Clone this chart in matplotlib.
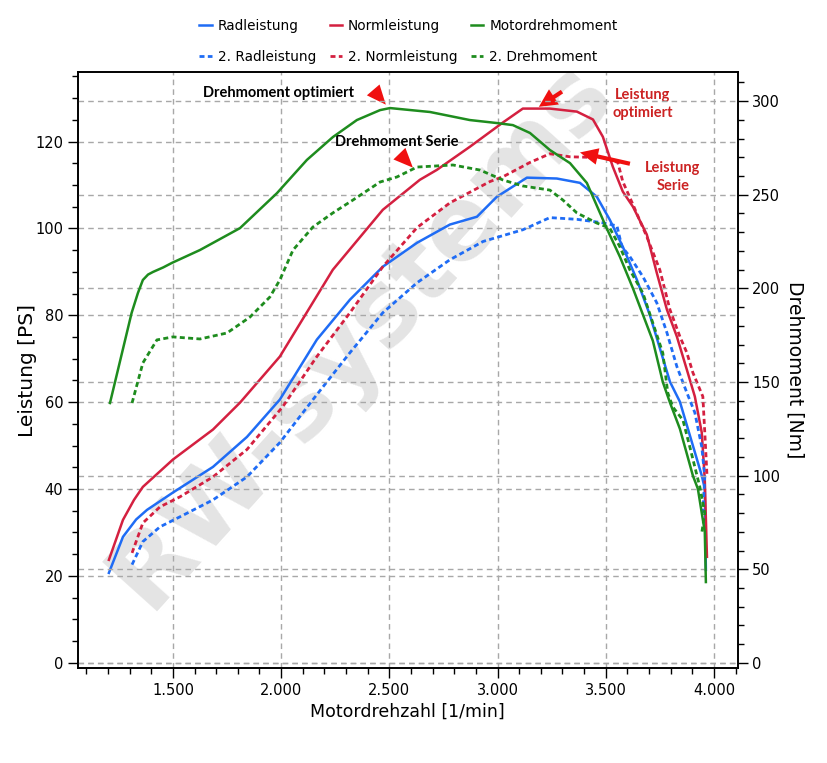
import matplotlib
matplotlib.use('Agg')
import matplotlib.pyplot as plt
from matplotlib.ticker import MultipleLocator, FuncFormatter

plt.rcParams['font.family'] = ['DejaVu Sans']
plt.rcParams['lines.solid_joinstyle'] = 'round'
plt.rcParams['lines.dash_joinstyle'] = 'round'

BLUE = '#1f6cf5'
RED = '#d42040'
GREEN = '#1e8c1e'
GRID = '#a8a8a8'

# Radleistung [PS]
rad_rpm = [1204, 1269, 1330, 1380, 1500, 1685, 1842, 1994, 2165, 2318, 2470, 2628, 2780, 2905,
           2997, 3136, 3274, 3381, 3459, 3519, 3579, 3644, 3704, 3797, 3843, 3944, 3958, 3963]
rad_ps = [20.7, 29.0, 33.0, 35.2, 39.2, 45.1, 52.0, 60.6, 74.4, 83.6, 91.2, 96.7, 100.9, 102.7,
          107.3, 111.7, 111.5, 110.5, 107.3, 102.0, 95.8, 88.2, 80.1, 64.7, 60.1, 43.1, 40.1, 21.4]

# Normleistung [PS]
norm_rpm = [1204, 1269, 1320, 1361, 1500, 1685, 1810, 1994, 2239, 2470, 2641, 2720, 2872, 3025,
            3117, 3242, 3367, 3441, 3487, 3533, 3579, 3626, 3690, 3736, 3783, 3829, 3875,
            3912, 3944, 3958, 3968]
norm_ps = [23.7, 32.9, 37.5, 40.5, 46.8, 53.7, 59.9, 70.5, 90.5, 104.3, 111.2, 113.5, 118.8, 124.4,
           127.6, 127.6, 126.9, 125.1, 121.1, 114.2, 108.5, 105.0, 98.6, 89.8, 81.3, 75.1, 67.5,
           61.3, 53.0, 42.1, 24.4]

# Motordrehmoment [Nm]
md_rpm = [1209, 1309, 1338, 1361, 1385, 1408, 1455, 1495, 1625, 1810, 1981, 2119, 2239, 2350,
          2457, 2503, 2688, 2872, 2997, 3071, 3150, 3242, 3335, 3413, 3505, 3566, 3626, 3672,
          3718, 3764, 3797, 3843, 3903, 3926, 3958, 3963]
md_nm = [138.8, 186.9, 197.5, 204.5, 207.4, 208.8, 211.2, 213.6, 220.5, 232.2, 250.9, 268.6,
         280.8, 289.9, 295.2, 296.3, 294.2, 289.9, 288.3, 287.2, 283.0, 273.9, 266.9, 256.3,
         232.0, 216.8, 200.0, 186.0, 172.0, 150.0, 139.0, 125.0, 100.0, 93.0, 70.0, 43.2]

# 2. Radleistung [PS]
rad2_rpm = [1311, 1361, 1440, 1532, 1685, 1842, 1994, 2147, 2318, 2470, 2628, 2780, 2933,
            3117, 3242, 3367, 3487, 3552, 3575, 3612, 3672, 3736, 3783, 3829, 3875, 3912,
            3944, 3958, 3949]
rad2_ps = [22.6, 27.9, 31.3, 33.6, 37.5, 42.8, 50.7, 60.6, 71.4, 80.6, 87.5, 92.8, 97.0,
           99.7, 102.5, 102.1, 101.3, 100.6, 95.8, 93.5, 88.9, 82.9, 76.0, 68.2, 62.2, 57.6,
           49.7, 42.8, 34.5]

# 2. Normleistung [PS]
norm2_rpm = [1311, 1361, 1440, 1532, 1685, 1842, 2008, 2165, 2318, 2470, 2628, 2780, 2965,
             3025, 3150, 3242, 3335, 3487, 3556, 3579, 3626, 3690, 3750, 3797, 3843, 3875,
             3903, 3949, 3958, 3968]
norm2_ps = [25.3, 32.2, 35.9, 38.2, 42.8, 49.1, 59.0, 70.5, 80.6, 91.2, 100.2, 105.9, 110.8,
            111.9, 115.2, 117.2, 116.5, 116.3, 115.2, 110.8, 105.5, 98.1, 90.5, 81.3, 75.1,
            71.4, 66.8, 61.3, 53.0, 43.3]

# 2. Drehmoment [Nm]
md2_rpm = [1311, 1361, 1426, 1500, 1625, 1750, 1856, 1948, 1994, 2055, 2147, 2239, 2332, 2457,
           2535, 2628, 2794, 2919, 3025, 3117, 3242, 3302, 3367, 3459, 3519, 3566, 3612, 3672,
           3718, 3764, 3787, 3810, 3857, 3889, 3935, 3958, 3944]
md2_nm = [138.8, 160.2, 172.5, 174.1, 173.0, 176.2, 184.7, 195.4, 204.5, 220.5, 232.8, 240.3,
          247.2, 256.8, 259.5, 264.8, 265.9, 263.2, 257.9, 254.7, 252.5, 247.2, 240.3, 234.9,
          232.2, 222.1, 209.8, 197.5, 181.5, 165.5, 144.2, 136.7, 129.7, 115.3, 94.0, 80.1, 69.4]

DASH = (0, (1.8, 1.2))

fig = plt.figure(figsize=(8.27, 7.63), dpi=100)
ax = fig.add_axes([0.094, 0.1245, 0.798, 0.781])
ax2 = ax.twinx()

# watermark
ax.text(0.43, 0.56, 'RW-systems', transform=ax.transAxes, rotation=48,
        fontsize=73, fontweight='bold', color='#e4e4e4', ha='center', va='center',
        zorder=0.3, clip_on=True)

l1, = ax.plot(rad_rpm, rad_ps, color=BLUE, lw=1.8, label='Radleistung')
l2, = ax.plot(norm_rpm, norm_ps, color=RED, lw=1.8, label='Normleistung')
l4, = ax.plot(rad2_rpm, rad2_ps, color=BLUE, lw=2, ls=DASH, label='2. Radleistung')
l5, = ax.plot(norm2_rpm, norm2_ps, color=RED, lw=2, ls=DASH, label='2. Normleistung')
l3, = ax2.plot(md_rpm, md_nm, color=GREEN, lw=1.8, label='Motordrehmoment')
l6, = ax2.plot(md2_rpm, md2_nm, color=GREEN, lw=2, ls=DASH, label='2. Drehmoment')

ax.set_xlim(1060, 4110)
ax.set_ylim(-1.2, 136)
ax2.set_ylim(-2.7, 315.5)

ax.xaxis.set_major_locator(MultipleLocator(500))
ax.xaxis.set_minor_locator(MultipleLocator(100))
ax.yaxis.set_major_locator(MultipleLocator(20))
ax.yaxis.set_minor_locator(MultipleLocator(5))
ax2.yaxis.set_major_locator(MultipleLocator(50))
ax2.yaxis.set_minor_locator(MultipleLocator(10))
ax.xaxis.set_major_formatter(FuncFormatter(lambda v, p: f'{int(v):,}'.replace(',', '.')))

for a in (ax, ax2):
    a.tick_params(which='major', direction='out', length=7, width=1, labelsize=10.5)
    a.tick_params(which='minor', direction='out', length=4, width=1)
    for s in a.spines.values():
        s.set_linewidth(1.2)
    a.grid(True, which='major', axis='y', color=GRID, ls=(0, (4, 3)), lw=1)
ax.grid(True, which='major', axis='x', color=GRID, ls=(0, (4, 3)), lw=1)

ax.set_xlabel('Motordrehzahl [1/min]', fontsize=12.5, labelpad=4)
ax.set_ylabel('Leistung [PS]', fontsize=14.5, labelpad=-1)
ax2.set_ylabel('Drehmoment [Nm]', fontsize=13.5, rotation=270, labelpad=17)

# annotations
bold = dict(family=['Lato', 'DejaVu Sans'], fontweight='bold', fontsize=10.5)
ax.text(1990, 131.3, 'Drehmoment optimiert', ha='center', va='center', color='black', **bold)
ax.text(2535, 119.8, 'Drehmoment Serie', ha='center', va='center', color='black', **bold)
ax.text(3672, 128.7, 'Leistung\noptimiert', ha='center', va='center', color='#cc2222',
        linespacing=1.4, **bold)
ax.text(3810, 111.9, 'Leistung\nSerie', ha='center', va='center', color='#cc2222',
        linespacing=1.4, **bold)

head = dict(color='#f01010', lw=0, shrinkA=0, shrinkB=0, mutation_scale=10)
ax.annotate('', xy=(2484, 128.5), xytext=(2429, 131.7),
            arrowprops=dict(arrowstyle='-|>,head_length=1.4,head_width=0.6', **head))
ax.annotate('', xy=(2609, 114.0), xytext=(2549, 117.1),
            arrowprops=dict(arrowstyle='-|>,head_length=1.4,head_width=0.6', **head))
ax.annotate('', xy=(3191, 128.0), xytext=(3298, 131.5),
            arrowprops=dict(arrowstyle='simple,head_length=1.3,head_width=1.3,tail_width=0.3',
                            color='#f01010', lw=0, shrinkA=0, shrinkB=0))
ax.annotate('', xy=(3381, 117.5), xytext=(3612, 114.9),
            arrowprops=dict(arrowstyle='simple,head_length=1.3,head_width=1.2,tail_width=0.3',
                            color='#f01010', lw=0, shrinkA=0, shrinkB=0))

handles = [l1, l4, l2, l5, l3, l6]
fig.legend(handles, [h.get_label() for h in handles], loc='upper center',
           bbox_to_anchor=(0.494, 0.991), ncol=3, frameon=False, fontsize=9.8,
           handlelength=0.9, handletextpad=0.45, columnspacing=1.0, labelspacing=1.25)

fig.savefig('out.png', dpi=100)
